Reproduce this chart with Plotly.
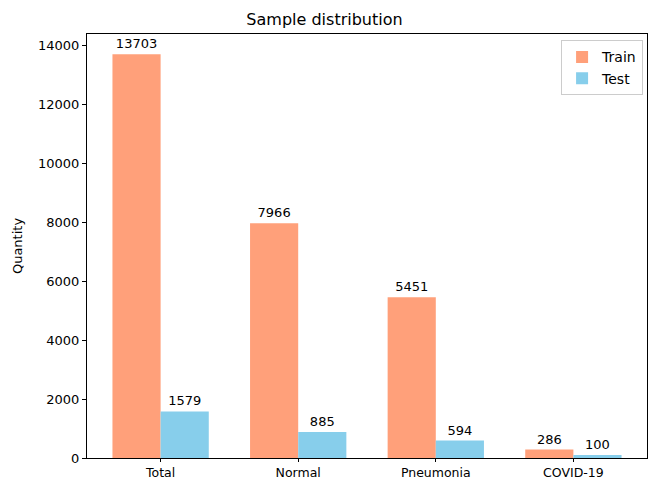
import plotly.graph_objects as go

categories = ["Total", "Normal", "Pneumonia", "COVID-19"]
train = [13703, 7966, 5451, 286]
test = [1579, 885, 594, 100]
yticks = [0, 2000, 4000, 6000, 8000, 10000, 12000, 14000]

font = "DejaVu Sans"
fig = go.Figure()
fig.add_trace(go.Bar(x=categories, y=train, name="Train", marker=dict(color="#FFA07A", line_width=0),
                     text=[str(v) for v in train], textposition="outside", cliponaxis=False,
                     textfont=dict(family=font, size=13, color="black")))
fig.add_trace(go.Bar(x=categories, y=test, name="Test", marker=dict(color="#87CEEB", line_width=0),
                     text=[str(v) for v in test], textposition="outside", cliponaxis=False,
                     textfont=dict(family=font, size=13, color="black")))

fig.update_layout(
    width=649, height=480,
    barmode="group", bargap=0.3, bargroupgap=0,
    plot_bgcolor="white", paper_bgcolor="white",
    font=dict(family=font, size=13, color="black"),
    margin=dict(l=87, r=2, t=34, b=22),
    title=dict(text="Sample distribution", x=0.5, xanchor="center", y=1 - 19/480, yanchor="middle",
               font=dict(family=font, size=16, color="black")),
    xaxis=dict(range=[-0.535, 3.535], showline=True, linecolor="black", linewidth=1, mirror=True,
               ticks="outside", ticklen=3, tickcolor="black", showgrid=False, automargin=False,
               tickfont=dict(family=font, size=12.5)),
    yaxis=dict(range=[0, 14388], showline=True, linecolor="black", linewidth=1, mirror=True,
               ticks="outside", ticklen=4, tickcolor="black", showgrid=False, zeroline=False,
               tickvals=yticks, ticktext=[str(v) for v in yticks], automargin=False,
               title=dict(text="Quantity", font=dict(family=font, size=13), standoff=12)),
    legend=dict(x=0.993, y=0.985, xanchor="right", yanchor="top", bordercolor="#cccccc", borderwidth=1,
                bgcolor="rgba(255,255,255,0.8)", font=dict(family=font, size=14)),
)
fig.write_html("out.html", config={"displayModeBar": False},
               post_script="document.body.style.margin='0';document.body.style.overflow='hidden';")
